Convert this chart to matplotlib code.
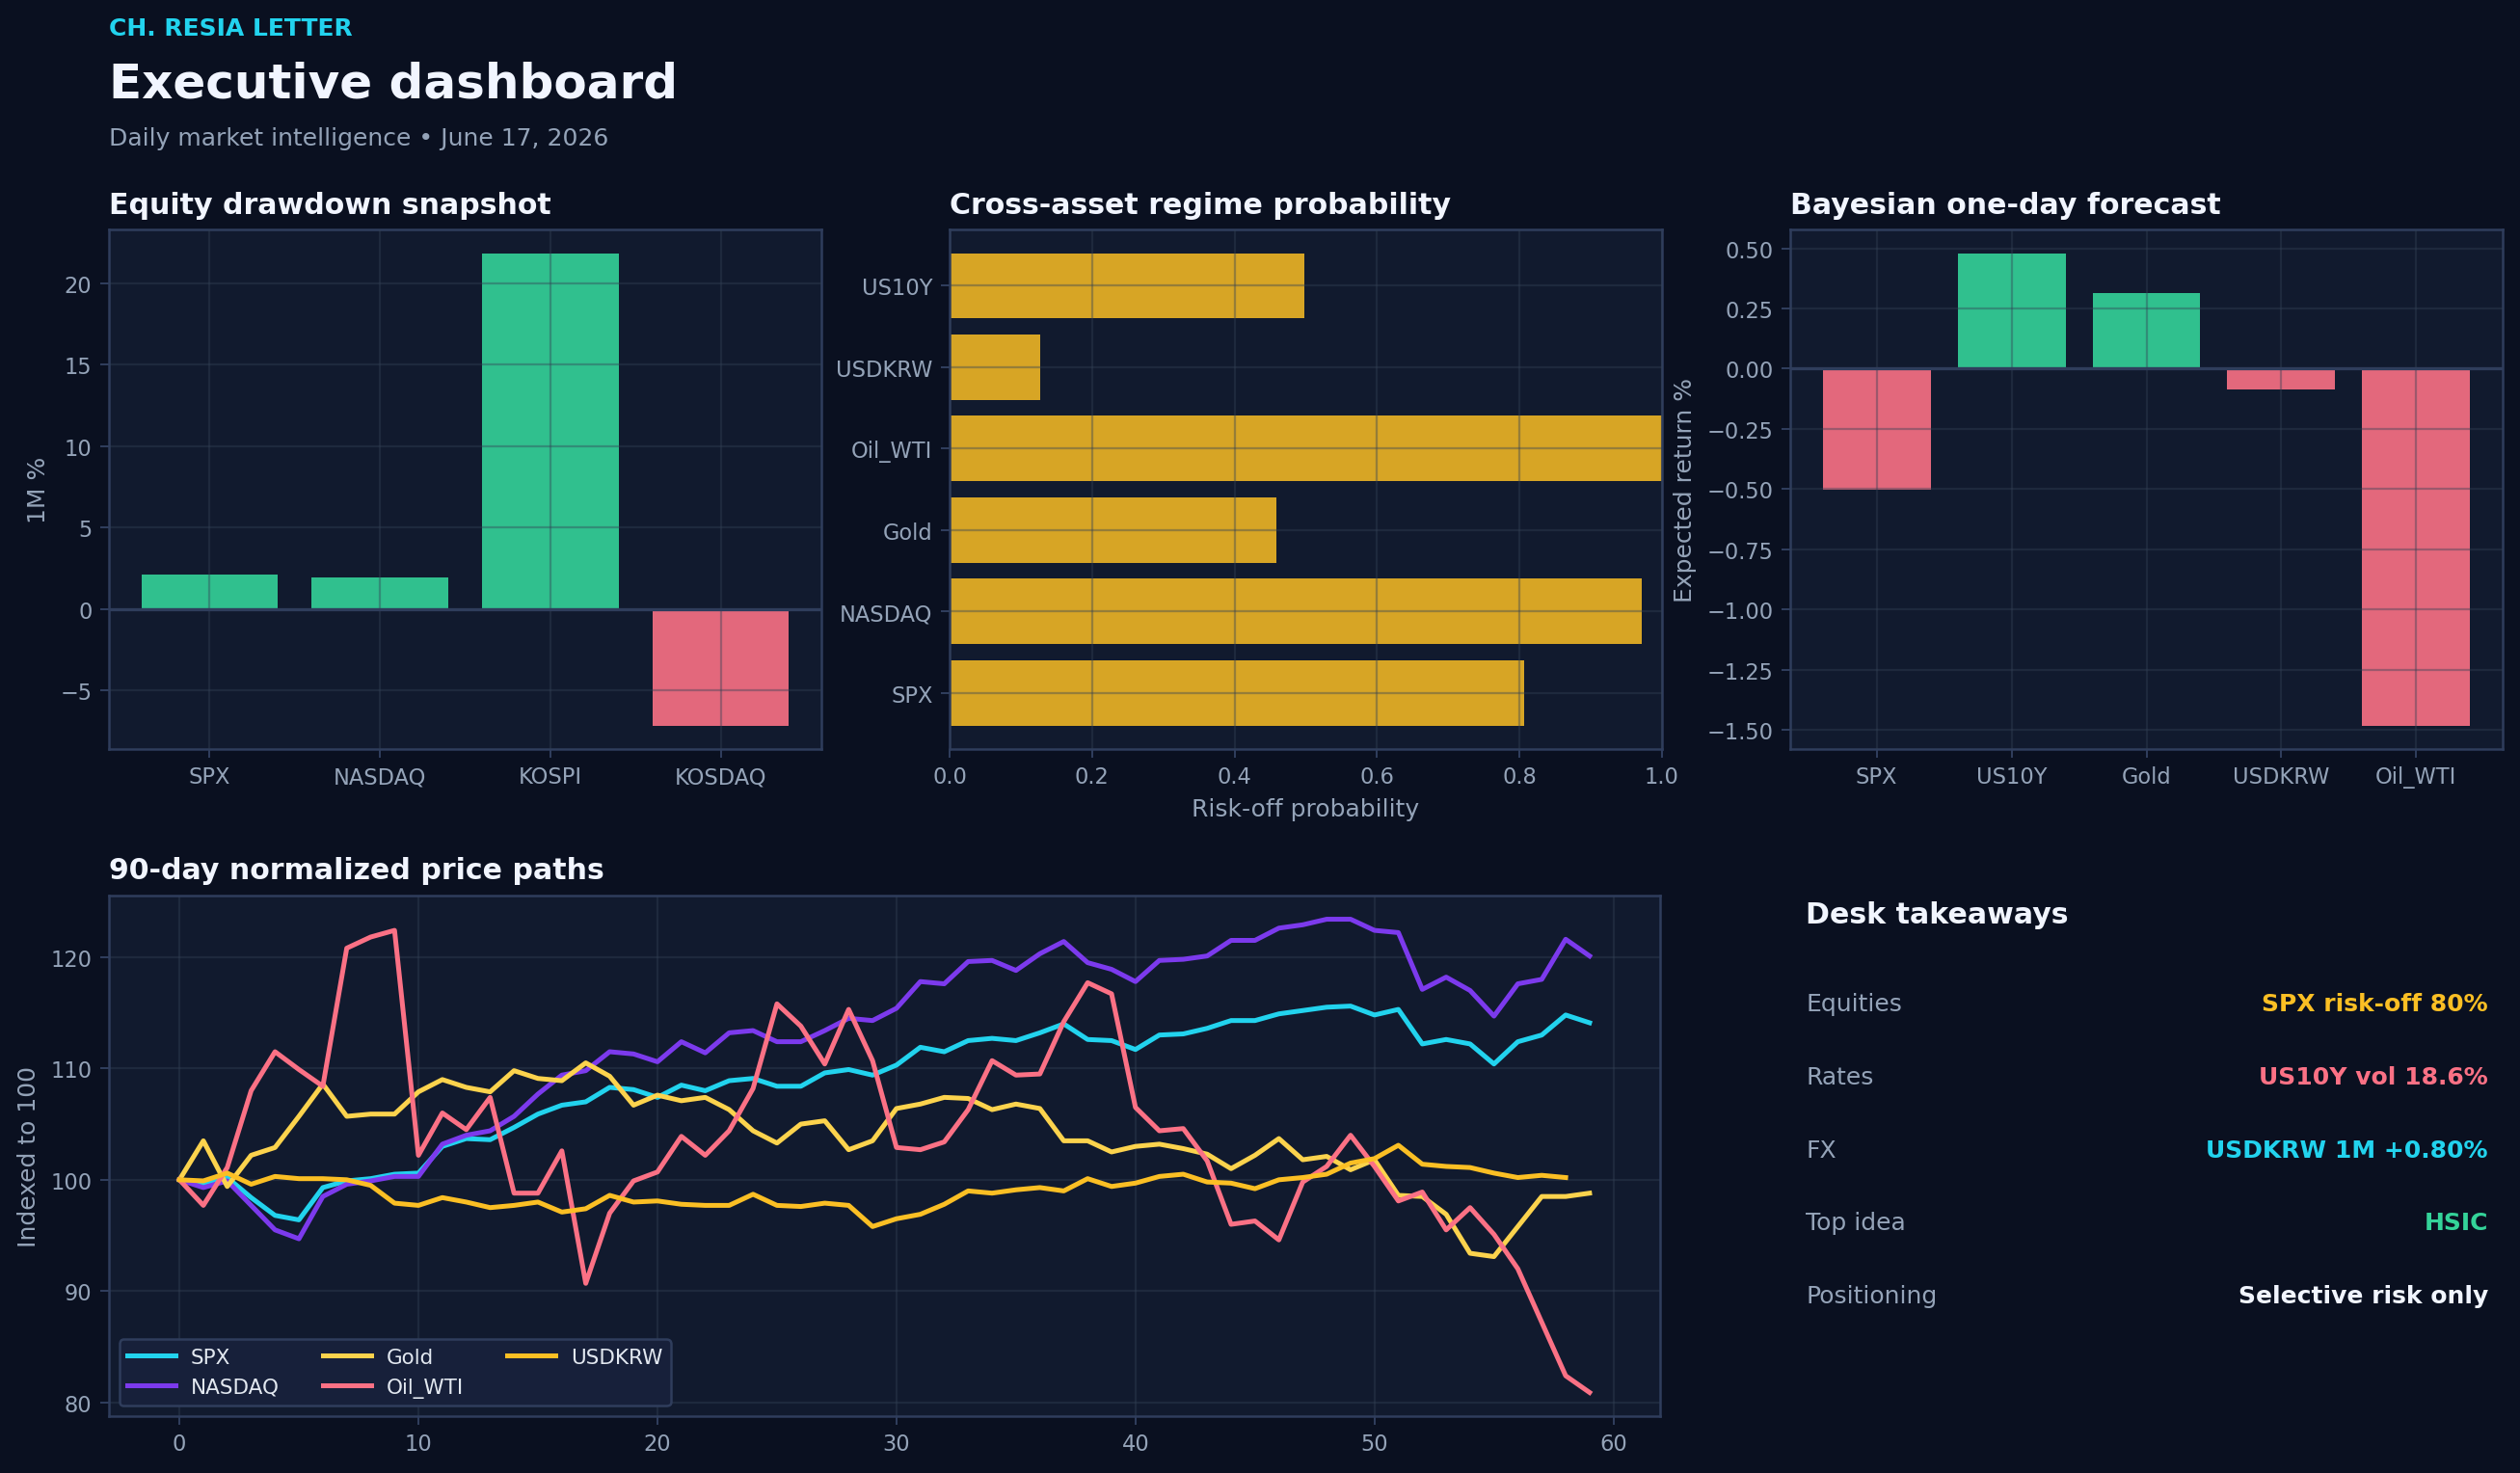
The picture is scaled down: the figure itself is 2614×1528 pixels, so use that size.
import numpy as np
import matplotlib
matplotlib.use('Agg')
import matplotlib.pyplot as plt

## Colours
BG = '#0A1020'
PANEL = '#111A2E'
SPINE = '#2F3D5C'
GRID = '#334155'
TICK = '#94A3B8'
TITLE = '#F1F5FF'
GREEN = '#34D399'
RED = '#FB7185'
AMBER = '#FBBF24'
CYAN = '#22D3EE'
PURPLE = '#7C3AED'
GOLD = '#FCD34D'

## Data
equity_names = ['SPX', 'NASDAQ', 'KOSPI', 'KOSDAQ']
equity_1m = [2.12, 1.94, 21.86, -7.15]

regime_names = ['SPX', 'NASDAQ', 'Gold', 'Oil_WTI', 'USDKRW', 'US10Y']
regime_prob = [0.806, 0.972, 0.459, 1.0, 0.127, 0.498]

forecast_names = ['SPX', 'US10Y', 'Gold', 'USDKRW', 'Oil_WTI']
forecast_ret = [-0.502, 0.48, 0.313, -0.088, -1.482]

spx = [100.0, 99.6, 100.2, 98.4, 96.8, 96.4, 99.3, 99.9, 100.1, 100.5,
       100.6, 103.0, 103.7, 103.6, 104.7, 105.9, 106.7, 107.0, 108.3, 108.1,
       107.4, 108.5, 108.0, 108.9, 109.1, 108.4, 108.4, 109.6, 109.9, 109.4,
       110.3, 111.9, 111.5, 112.5, 112.7, 112.5, 113.2, 114.0, 112.6, 112.5,
       111.7, 113.0, 113.1, 113.6, 114.3, 114.3, 114.9, 115.2, 115.5, 115.6,
       114.8, 115.3, 112.2, 112.6, 112.2, 110.4, 112.4, 113.0, 114.8, 114.1]
nasdaq = [100.0, 99.3, 99.9, 97.7, 95.5, 94.7, 98.5, 99.6, 99.9, 100.3,
          100.3, 103.2, 104.0, 104.4, 105.7, 107.7, 109.4, 109.8, 111.5, 111.3,
          110.6, 112.4, 111.4, 113.2, 113.4, 112.4, 112.4, 113.4, 114.5, 114.3,
          115.4, 117.8, 117.6, 119.6, 119.7, 118.8, 120.3, 121.4, 119.5, 118.9,
          117.8, 119.7, 119.8, 120.1, 121.5, 121.5, 122.6, 122.9, 123.4, 123.4,
          122.4, 122.2, 117.1, 118.2, 117.0, 114.7, 117.6, 118.0, 121.6, 120.1]
gold = [100.0, 103.5, 99.4, 102.2, 102.9, 105.7, 108.6, 105.7, 105.9, 105.9,
        107.9, 109.0, 108.3, 107.9, 109.8, 109.1, 108.9, 110.5, 109.3, 106.7,
        107.6, 107.1, 107.4, 106.3, 104.4, 103.3, 105.0, 105.3, 102.7, 103.5,
        106.4, 106.8, 107.4, 107.3, 106.3, 106.8, 106.4, 103.5, 103.5, 102.5,
        103.0, 103.2, 102.8, 102.3, 101.0, 102.2, 103.7, 101.8, 102.1, 100.9,
        101.8, 98.6, 98.5, 96.9, 93.4, 93.1, 95.8, 98.5, 98.5, 98.8]
oil_wti = [100.0, 97.7, 101.1, 108.0, 111.5, 109.9, 108.4, 120.8, 121.8, 122.4,
           102.2, 106.0, 104.5, 107.4, 98.8, 98.8, 102.6, 90.7, 97.0, 99.9,
           100.7, 103.9, 102.2, 104.4, 108.2, 115.8, 113.8, 110.4, 115.3, 110.7,
           102.9, 102.7, 103.4, 106.3, 110.7, 109.4, 109.5, 114.2, 117.7, 116.7,
           106.5, 104.4, 104.6, 101.7, 96.0, 96.3, 94.6, 99.8, 101.2, 104.0,
           101.2, 98.1, 98.9, 95.5, 97.5, 95.1, 92.0, 87.2, 82.4, 80.9]
usdkrw = [100.0, 99.9, 100.6, 99.6, 100.3, 100.1, 100.1, 100.0, 99.5, 97.9,
          97.7, 98.4, 98.0, 97.5, 97.7, 98.0, 97.1, 97.4, 98.6, 98.0,
          98.1, 97.8, 97.7, 97.7, 98.7, 97.7, 97.6, 97.9, 97.7, 95.8,
          96.5, 96.9, 97.8, 99.0, 98.8, 99.1, 99.3, 99.0, 100.1, 99.4,
          99.7, 100.3, 100.5, 99.8, 99.7, 99.2, 100.0, 100.2, 100.5, 101.5,
          101.9, 103.1, 101.4, 101.2, 101.1, 100.6, 100.2, 100.4, 100.2]

takeaway_labels = ['Equities', 'Rates', 'FX', 'Top idea', 'Positioning']
takeaway_values = ['SPX risk-off 80%', 'US10Y vol 18.6%', 'USDKRW 1M +0.80%',
                   'HSIC', 'Selective risk only']
takeaway_colors = [AMBER, RED, CYAN, GREEN, TITLE]


def style_axes(ax, title):
    ax.set_facecolor(PANEL)
    for s in ax.spines.values():
        s.set_color(SPINE)
        s.set_linewidth(1.0)
    ax.tick_params(colors=SPINE, labelcolor=TICK, labelsize=9)
    ax.grid(True, color=GRID, linewidth=0.9, alpha=0.4)
    ax.set_axisbelow(False)
    ax.set_title(title, loc='left', color=TITLE, fontsize=12,
                 fontweight='bold', pad=7)


W, H = 2614, 1529
DPI = 180
fig = plt.figure(figsize=(W / DPI, H / DPI), dpi=DPI, facecolor=BG)


def box(left, top, right, bottom):
    return [left / W, 1 - bottom / H, (right - left) / W, (bottom - top) / H]


########### Header ##############
fig.text(113 / W, 1 - 37 / H, 'CH. RESIA LETTER', color=CYAN, fontsize=10,
         fontweight='bold', va='baseline')
fig.text(113 / W, 1 - 102 / H, 'Executive dashboard', color=TITLE, fontsize=20,
         fontweight='bold', va='baseline')
fig.text(113 / W, 1 - 151 / H, 'Daily market intelligence \u2022 June 17, 2026',
         color=TICK, fontsize=10, va='baseline')

########### Equity drawdown ##############
ax1 = fig.add_axes(box(113, 239, 852, 778))
style_axes(ax1, 'Equity drawdown snapshot')
cols = [GREEN if v >= 0 else RED for v in equity_1m]
ax1.bar(equity_names, equity_1m, color=cols, alpha=0.9, zorder=1)
ax1.axhline(0, color=SPINE, linewidth=1.3, zorder=3)
ax1.set_ylabel('1M %', color=TICK, fontsize=10)

########### Regime probability ##############
ax2 = fig.add_axes(box(985, 239, 1724, 778))
style_axes(ax2, 'Cross-asset regime probability')
ax2.barh(regime_names, regime_prob, color=AMBER, alpha=0.85, zorder=1)
ax2.set_xlim(0, 1)
ax2.set_xlabel('Risk-off probability', color=TICK, fontsize=10)

########### Bayesian forecast ##############
ax3 = fig.add_axes(box(1857, 239, 2596, 778))
style_axes(ax3, 'Bayesian one-day forecast')
cols = [GREEN if v >= 0 else RED for v in forecast_ret]
ax3.bar(forecast_names, forecast_ret, color=cols, alpha=0.9, zorder=1)
ax3.axhline(0, color=SPINE, linewidth=1.3, zorder=3)
ax3.set_ylabel('Expected return %', color=TICK, fontsize=10)

########### Price paths ##############
ax4 = fig.add_axes(box(113, 930, 1722, 1470))
style_axes(ax4, '90-day normalized price paths')
ax4.set_axisbelow(True)
series = [('SPX', spx, CYAN), ('NASDAQ', nasdaq, PURPLE), ('Gold', gold, GOLD),
          ('Oil_WTI', oil_wti, RED), ('USDKRW', usdkrw, AMBER)]
for name, vals, c in series:
    ax4.plot(np.arange(len(vals)), vals, color=c, linewidth=2.0, label=name)
ax4.set_ylabel('Indexed to 100', color=TICK, fontsize=10)
leg = ax4.legend(loc='lower left', ncol=3, fontsize=8.6, facecolor='#17203A',
                 edgecolor=SPINE, labelcolor='#E2E8F0', framealpha=1.0,
                 handlelength=2.3, handletextpad=0.75, columnspacing=2.1)

########### Desk takeaways ##############
fig.text(1873 / W, 1 - 950 / H, 'Desk takeaways', color=TITLE, fontsize=12,
         fontweight='bold', va='center')
for i in range(len(takeaway_labels)):
    y = 1 - (1042 + 75.8 * i) / H
    fig.text(1873 / W, y, takeaway_labels[i], color=TICK, fontsize=10, va='center')
    fig.text(2581 / W, y, takeaway_values[i], color=takeaway_colors[i],
             fontsize=10, fontweight='bold', va='center', ha='right')

fig.savefig('out.png', dpi=DPI, facecolor=BG)
